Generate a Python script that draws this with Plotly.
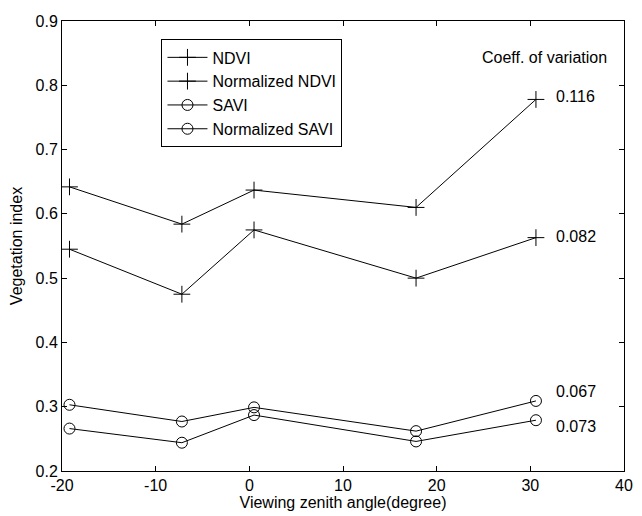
import plotly.graph_objects as go

angles = [-19.2, -7.2, 0.5, 17.8, 30.6]
ndvi = [0.642, 0.584, 0.637, 0.610, 0.778]
norm_ndvi = [0.545, 0.475, 0.575, 0.500, 0.563]
savi = [0.303, 0.277, 0.299, 0.262, 0.309]
norm_savi = [0.266, 0.244, 0.287, 0.246, 0.279]
series_names = ["NDVI", "Normalized NDVI", "SAVI", "Normalized SAVI"]
cv_labels = ["0.116", "0.082", "0.067", "0.073"]
x_ticks = [-20, -10, 0, 10, 20, 30, 40]
x_ticktext = ["-20", "-10", "0", "10", "20", "30", "40"]
y_ticks = [0.2, 0.3, 0.4, 0.5, 0.6, 0.7, 0.8, 0.9]

FONT = "Liberation Sans, Arial, sans-serif"
FS = 16
fig = go.Figure()
series = [ndvi, norm_ndvi, savi, norm_savi]
symbols = ["cross-thin-open", "cross-thin-open", "circle-open", "circle-open"]
sizes = [12, 12, 11, 11]
for name, ys, sym, sz in zip(series_names, series, symbols, sizes):
    fig.add_trace(go.Scatter(
        x=angles, y=ys, name=name, mode="lines+markers",
        line=dict(color="black", width=1),
        marker=dict(symbol=sym, size=sz, color="black",
                    line=dict(color="black", width=1)),
    ))

# coefficient labels (positions in data coords)
label_x = 32.5
label_y = [0.783, 0.565, 0.323, 0.270]
for lab, yv in zip(cv_labels, label_y):
    fig.add_annotation(x=label_x, y=yv, text=lab, showarrow=False, xanchor="left",
                       yanchor="middle", font=dict(family=FONT, size=FS, color="black"))
fig.add_annotation(x=24.6, y=0.844, text="Coeff. of variation", showarrow=False,
                   xanchor="left", yanchor="middle",
                   font=dict(family=FONT, size=FS, color="black"))

axis_common = dict(showline=True, linecolor="black", linewidth=1, mirror="ticks",
                   ticks="inside", ticklen=5, tickcolor="black", showgrid=False,
                   zeroline=False, tickfont=dict(family=FONT, size=FS, color="black"))
fig.update_xaxes(range=[-20, 40], tickvals=x_ticks, ticktext=x_ticktext,
                 title=dict(text="Viewing zenith angle(degree)", standoff=2,
                            font=dict(family=FONT, size=FS, color="black")),
                 **axis_common)
fig.update_yaxes(range=[0.2, 0.9], tickvals=y_ticks, tickformat=".1f",
                 title=dict(text="Vegetation index", standoff=8,
                            font=dict(family=FONT, size=FS, color="black")),
                 **axis_common)
fig.update_layout(
    width=642, height=516,
    margin=dict(l=62, r=9, t=21, b=45),
    paper_bgcolor="white", plot_bgcolor="white",
    font=dict(family=FONT, size=FS, color="black"),
    legend=dict(x=0.177, y=0.959, xanchor="left", yanchor="top",
                bordercolor="black", borderwidth=1, bgcolor="white",
                font=dict(family=FONT, size=16, color="black"),
                tracegroupgap=0, itemwidth=40),
)
fig.write_html("out.html", config={"displayModeBar": False},
               post_script="document.body.style.margin='0';document.body.style.overflow='hidden';")
